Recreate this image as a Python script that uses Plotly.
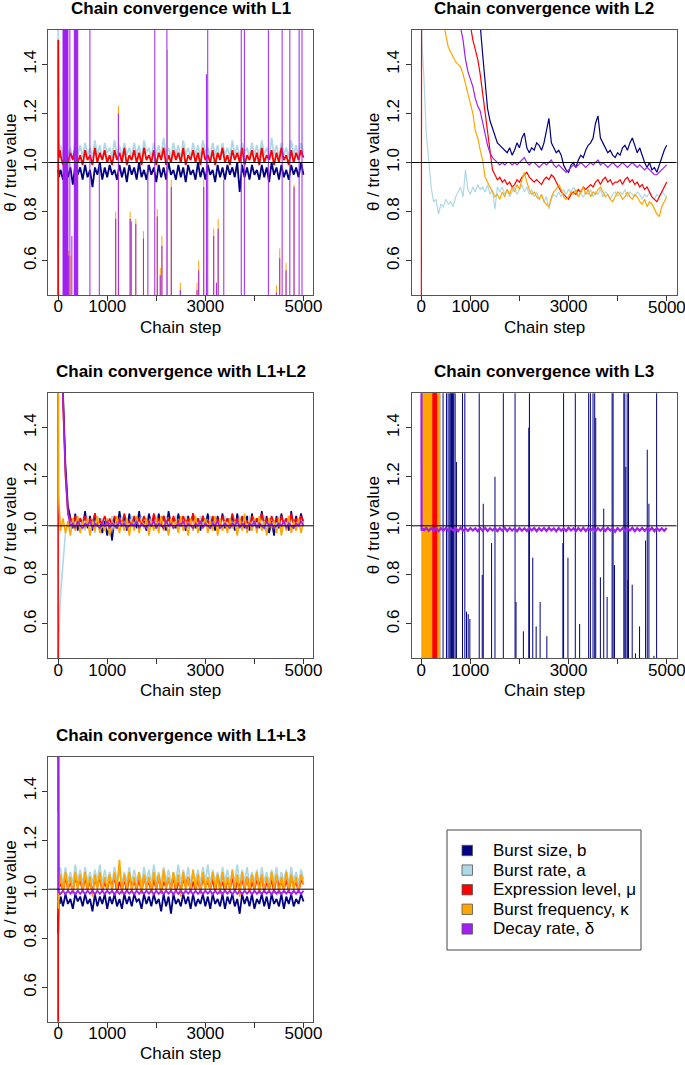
import plotly.graph_objects as go

# ---------------------------------------------------------------- data
# chain steps at which the traces were read (burn-in start + every 50 steps)
STEPS = [0, 2, 5, 10, 20, 35] + list(range(50, 5001, 50))

SERIES_NAMES = ["Burst size, b", "Burst rate, a", "Expression level, \u03bc",
                "Burst frequency, \u03ba", "Decay rate, \u03b4"]
PANEL_TITLES = ["Chain convergence with L1", "Chain convergence with L2",
                "Chain convergence with L1+L2", "Chain convergence with L3",
                "Chain convergence with L1+L3"]
X_TICKS = [0, 1000, 2000, 3000, 4000, 5000]
X_TICK_TEXT = ["0", "1000", "", "3000", "", "5000"]
Y_TICKS = [0.6, 0.8, 1.0, 1.2, 1.4]
Y_TICK_TEXT = ["0.6", "0.8", "1.0", "1.2", "1.4"]

# ---- L1
L1_B = [0.97, 0.96, 0.95, 0.96, 0.94, 0.96,
        0.97, 0.93, 0.99, 0.94, 0.98, 0.91, 0.99, 0.95, 0.98, 0.93,
        0.99, 0.94, 0.97, 0.90, 0.98, 0.95, 1.00, 0.93, 0.98, 0.94,
        0.99, 0.95, 0.97, 0.93, 0.99, 0.94, 0.98, 0.92, 0.99, 0.95,
        0.98, 0.93, 1.00, 0.94, 0.97, 0.93, 0.99, 0.95, 0.98, 0.92,
        0.99, 0.94, 0.98, 0.93, 1.00, 0.95, 0.97, 0.93, 0.99, 0.94,
        0.98, 0.92, 0.99, 0.95, 0.97, 0.93, 1.00, 0.94, 0.98, 0.93,
        0.99, 0.95, 0.97, 0.92, 0.99, 0.94, 0.98, 0.93, 0.99, 0.95,
        0.98, 0.94, 1.00, 0.88, 0.99, 0.94, 0.98, 0.93, 0.99, 0.95,
        0.97, 0.93, 0.99, 0.94, 0.98, 0.92, 1.00, 0.95, 0.98, 0.93,
        0.99, 0.94, 0.97, 0.93, 0.99, 0.95, 0.98, 0.94, 1.00, 0.95]
L1_A = [1.80, 1.50, 1.20, 1.06, 1.08, 1.05,
        1.07, 1.02, 1.08, 1.03, 1.06, 1.01, 1.09, 1.03, 1.07, 1.02,
        1.08, 1.03, 1.06, 1.02, 1.09, 1.03, 1.07, 1.01, 1.08, 1.04,
        1.06, 1.02, 1.09, 1.03, 1.07, 1.02, 1.08, 1.03, 1.06, 1.02,
        1.08, 1.03, 1.07, 1.01, 1.09, 1.04, 1.06, 1.02, 1.08, 1.03,
        1.07, 1.02, 1.10, 1.03, 1.06, 1.02, 1.08, 1.03, 1.07, 1.01,
        1.09, 1.03, 1.06, 1.02, 1.08, 1.03, 1.07, 1.02, 1.09, 1.04,
        1.06, 1.02, 1.08, 1.03, 1.07, 1.01, 1.08, 1.03, 1.06, 1.02,
        1.09, 1.03, 1.07, 1.02, 1.08, 1.04, 1.06, 1.02, 1.08, 1.03,
        1.07, 1.02, 1.09, 1.03, 1.06, 1.02, 1.10, 1.03, 1.07, 1.02,
        1.08, 1.03, 1.06, 1.02, 1.09, 1.03, 1.07, 1.02, 1.08, 1.04]
L1_MU = [0.20, 1.50, 1.10, 1.03, 1.02, 1.05,
         1.03, 0.99, 1.05, 1.00, 1.04, 1.01, 1.06, 1.00, 1.03, 0.99,
         1.05, 1.01, 1.03, 0.99, 1.06, 1.00, 1.04, 1.01, 1.05, 1.00,
         1.03, 0.99, 1.05, 1.01, 1.04, 1.00, 1.06, 0.99, 1.03, 1.01,
         1.05, 1.00, 1.04, 0.99, 1.06, 1.01, 1.03, 1.00, 1.05, 0.99,
         1.04, 1.01, 1.06, 0.99, 1.03, 1.00, 1.05, 1.01, 1.04, 1.00,
         1.06, 0.99, 1.03, 1.01, 1.05, 1.00, 1.04, 0.99, 1.06, 1.01,
         1.03, 1.00, 1.05, 0.99, 1.04, 1.01, 1.06, 1.00, 1.03, 0.99,
         1.05, 1.01, 1.04, 1.00, 1.06, 0.99, 1.03, 1.01, 1.05, 1.00,
         1.04, 0.99, 1.06, 1.00, 1.03, 1.01, 1.05, 0.99, 1.04, 1.00,
         1.06, 1.01, 1.03, 0.99, 1.05, 1.00, 1.04, 1.01, 1.05, 1.02]
L1_KD_LOW = 0.30          # kappa / delta sit below the window between excursions
L1_K_SPIKES = [(215, 0.64), (260, 0.62), (1174, 0.80), (1228, 1.23), (1467, 0.80),
               (1583, 0.77), (1739, 0.72), (2020, 0.81), (2081, 0.57), (2115, 0.70),
               (2225, 1.46), (2306, 0.93), (2490, 0.51), (2831, 0.51), (2865, 0.60),
               (2967, 0.93), (3171, 0.73), (3261, 0.77), (4448, 0.50), (4516, 0.65),
               (4645, 0.59), (4808, 0.91)]
L1_D_SPIKES = [(100, 2.0), (110, 2.0), (120, 2.0), (130, 2.0), (140, 2.0), (150, 2.0),
               (160, 2.0), (170, 2.0), (180, 2.0), (190, 2.0), (200, 2.0), (215, 0.62),
               (240, 2.0), (280, 0.70), (330, 2.0), (340, 2.0), (350, 2.0), (360, 2.0),
               (370, 2.0), (380, 2.0), (390, 2.0), (400, 2.0), (648, 2.0), (839, 0.99),
               (1174, 0.77), (1228, 1.20), (1467, 0.77), (1490, 0.76), (1583, 0.75),
               (1739, 0.69), (1829, 0.99), (1970, 2.0), (2020, 0.78), (2081, 0.54),
               (2115, 0.66), (2217, 2.0), (2306, 0.90), (2490, 0.48), (2831, 0.48),
               (2865, 0.56), (2967, 0.90), (3022, 1.36), (3049, 2.0), (3171, 0.70),
               (3226, 0.51), (3261, 0.73), (3376, 0.93), (3732, 2.0), (3795, 2.0),
               (4284, 2.0), (4448, 0.47), (4516, 0.61), (4565, 2.0), (4645, 0.56),
               (4722, 2.0), (4808, 0.90), (4911, 2.0), (4970, 2.0)]

# ---- L2
L2_B = [3.00, 3.00, 3.00, 3.00, 3.00, 2.99,
        2.98, 2.96, 2.93, 2.90, 2.86, 2.82, 2.78, 2.73, 2.68, 2.63,
        2.57, 2.51, 2.44, 2.37, 2.29, 2.20, 2.10, 1.99, 1.88, 1.77,
        1.70, 1.65, 1.60, 1.56, 1.44, 1.32, 1.22, 1.17, 1.14, 1.11,
        1.08, 1.07, 1.06, 1.05, 1.04, 1.06, 1.03, 1.05, 1.08, 1.06,
        1.10, 1.12, 1.06, 1.04, 1.06, 1.05, 1.08, 1.07, 1.05, 1.08,
        1.13, 1.18, 1.08, 1.06, 1.04, 1.05, 1.03, 0.99, 0.97, 0.96,
        0.99, 1.00, 0.98, 1.01, 1.03, 1.02, 1.05, 1.07, 1.08, 1.10,
        1.16, 1.19, 1.10, 1.08, 1.06, 1.04, 1.05, 1.03, 1.02, 1.04,
        1.03, 1.06, 1.07, 1.05, 1.08, 1.10, 1.07, 1.04, 1.06, 1.03,
        1.00, 0.98, 1.00, 0.97, 0.98, 0.96, 0.99, 1.02, 1.05, 1.07]
L2_A = [1.60, 1.56, 1.53, 1.50, 1.46, 1.41,
        1.36, 1.12, 1.02, 0.90, 0.84, 0.85, 0.79, 0.83, 0.82, 0.85,
        0.83, 0.84, 0.82, 0.86, 0.88, 0.90, 0.86, 0.97, 0.89, 0.87,
        0.90, 0.88, 0.91, 0.89, 0.90, 0.88, 0.91, 0.87, 0.89, 0.81,
        0.90, 0.88, 0.90, 0.87, 0.89, 0.86, 0.88, 0.90, 0.87, 0.89,
        0.91, 0.88, 0.90, 0.87, 0.89, 0.86, 0.88, 0.85, 0.87, 0.84,
        0.86, 0.81, 0.85, 0.87, 0.86, 0.88, 0.86, 0.89, 0.87, 0.89,
        0.88, 0.90, 0.88, 0.89, 0.87, 0.86, 0.88, 0.87, 0.89, 0.86,
        0.88, 0.87, 0.89, 0.86, 0.88, 0.87, 0.85, 0.87, 0.88, 0.86,
        0.88, 0.87, 0.89, 0.86, 0.88, 0.87, 0.86, 0.88, 0.87, 0.85,
        0.87, 0.86, 0.88, 0.86, 0.85, 0.87, 0.86, 0.88, 0.87, 0.86]
L2_MU = [0.20, 3.00, 3.00, 3.00, 2.99, 2.98,
         2.96, 2.92, 2.88, 2.83, 2.78, 2.72, 2.66, 2.60, 2.53, 2.46,
         2.38, 2.30, 2.22, 2.13, 2.04, 1.94, 1.84, 1.74, 1.64, 1.56,
         1.50, 1.46, 1.42, 1.36, 1.28, 1.20, 1.12, 1.04, 0.97, 0.95,
         0.93, 0.94, 0.92, 0.93, 0.91, 0.92, 0.90, 0.91, 0.93, 0.92,
         0.94, 0.95, 0.96, 0.94, 0.93, 0.92, 0.93, 0.92, 0.91, 0.93,
         0.94, 0.93, 0.95, 0.94, 0.92, 0.90, 0.88, 0.87, 0.86, 0.85,
         0.87, 0.88, 0.87, 0.89, 0.88, 0.90, 0.89, 0.90, 0.91, 0.90,
         0.92, 0.93, 0.91, 0.93, 0.94, 0.92, 0.93, 0.91, 0.92, 0.92,
         0.93, 0.91, 0.93, 0.94, 0.92, 0.93, 0.91, 0.92, 0.90, 0.91,
         0.89, 0.90, 0.88, 0.86, 0.85, 0.84, 0.86, 0.88, 0.90, 0.92]
L2_K = [3.00, 3.00, 3.00, 2.99, 2.98, 2.96,
        2.60, 2.40, 2.20, 2.05, 1.92, 1.82, 1.72, 1.64, 1.57, 1.52,
        1.47, 1.45, 1.43, 1.41, 1.40, 1.39, 1.36, 1.32, 1.28, 1.24,
        1.20, 1.13, 1.10, 1.05, 1.01, 0.94, 0.92, 0.90, 0.88, 0.86,
        0.87, 0.85, 0.88, 0.86, 0.89, 0.87, 0.90, 0.88, 0.91, 0.89,
        0.93, 0.96, 0.92, 0.89, 0.87, 0.88, 0.86, 0.85, 0.87, 0.84,
        0.83, 0.82, 0.86, 0.88, 0.89, 0.91, 0.89, 0.86, 0.85, 0.86,
        0.88, 0.87, 0.89, 0.86, 0.88, 0.90, 0.87, 0.89, 0.86, 0.88,
        0.87, 0.89, 0.90, 0.88, 0.86, 0.87, 0.85, 0.84, 0.86, 0.88,
        0.87, 0.85, 0.86, 0.88, 0.86, 0.85, 0.87, 0.86, 0.84, 0.83,
        0.85, 0.82, 0.84, 0.83, 0.81, 0.79, 0.78, 0.82, 0.84, 0.86]
L2_D = [3.00, 3.00, 3.00, 3.00, 2.99, 2.98,
        2.95, 2.88, 2.80, 2.70, 2.60, 2.50, 2.40, 2.30, 2.20, 2.10,
        2.00, 1.90, 1.80, 1.70, 1.62, 1.55, 1.50, 1.42, 1.37, 1.34,
        1.31, 1.26, 1.23, 1.21, 1.16, 1.11, 1.07, 1.04, 1.02, 1.01,
        1.00, 0.99, 1.00, 0.99, 1.00, 1.00, 0.99, 1.00, 0.99, 1.00,
        1.01, 1.02, 1.00, 0.99, 1.00, 1.00, 0.99, 0.98, 0.99, 1.00,
        0.99, 1.00, 1.01, 0.99, 0.98, 0.99, 0.98, 0.97, 0.96, 0.97,
        0.98, 0.99, 0.98, 0.99, 1.00, 0.99, 0.98, 0.99, 1.00, 0.99,
        1.00, 1.01, 0.99, 1.00, 0.99, 0.98, 0.99, 1.00, 0.99, 0.98,
        0.99, 1.00, 0.99, 0.98, 0.99, 1.00, 0.99, 0.98, 0.99, 0.98,
        0.97, 0.98, 0.97, 0.96, 0.95, 0.95, 0.96, 0.97, 0.98, 0.99]

# ---- L1+L2
L12_B = [3.00, 3.00, 2.90, 2.80, 2.60, 2.30,
         2.00, 1.55, 1.25, 1.08, 1.04, 0.99, 1.05, 0.98, 1.03, 1.00,
         1.06, 0.99, 1.04, 0.98, 1.05, 1.00, 1.03, 0.97, 1.02, 0.96,
         1.01, 0.94, 1.03, 0.99, 1.06, 1.00, 1.04, 0.98, 1.05, 1.00,
         1.03, 0.99, 1.06, 1.00, 1.02, 0.98, 1.05, 1.01, 1.03, 0.99,
         1.05, 1.00, 1.04, 0.98, 1.06, 1.01, 1.03, 0.99, 1.05, 1.00,
         1.02, 0.98, 1.04, 1.00, 1.05, 0.99, 1.03, 0.98, 1.04, 1.00,
         1.05, 0.99, 1.03, 0.98, 1.04, 1.00, 1.05, 0.99, 1.03, 1.01,
         1.04, 0.98, 1.05, 1.00, 1.03, 0.99, 1.04, 0.98, 1.05, 1.00,
         1.03, 0.99, 1.06, 1.00, 1.04, 0.97, 1.02, 0.96, 1.04, 0.99,
         1.05, 1.00, 1.03, 0.98, 1.06, 0.99, 1.04, 1.00, 1.05, 1.01]
L12_A = [0.40, 0.45, 0.50, 0.54, 0.58, 0.65,
         0.72, 0.85, 0.97, 1.01, 0.99, 1.03, 0.98, 1.04, 1.00, 1.03,
         0.98, 1.04, 1.00, 1.03, 0.97, 1.04, 1.01, 1.03, 0.98, 1.02,
         0.99, 1.04, 0.98, 1.03, 1.00, 1.04, 0.98, 1.02, 0.99, 1.04,
         1.00, 1.03, 0.98, 1.04, 0.99, 1.02, 0.98, 1.03, 1.00, 1.04,
         0.99, 1.03, 0.98, 1.04, 1.00, 1.02, 0.99, 1.04, 0.98, 1.03,
         1.00, 1.04, 0.99, 1.02, 0.98, 1.03, 1.00, 1.04, 0.99, 1.03,
         0.98, 1.04, 1.00, 1.02, 0.99, 1.03, 0.98, 1.04, 1.00, 1.03,
         0.99, 1.02, 0.98, 1.04, 1.00, 1.03, 0.99, 1.04, 0.98, 1.02,
         1.00, 1.03, 0.99, 1.04, 0.98, 1.03, 1.00, 1.02, 0.99, 1.04,
         0.98, 1.03, 1.00, 1.04, 0.99, 1.02, 0.98, 1.03, 1.00, 1.02]
L12_MU = [0.20, 3.00, 2.90, 2.70, 2.40, 2.10,
          1.95, 1.50, 1.20, 1.05, 1.03, 1.01, 1.04, 1.00, 1.03, 1.01,
          1.04, 1.00, 1.03, 1.01, 1.05, 1.00, 1.02, 1.01, 1.04, 1.00,
          1.03, 1.00, 1.04, 1.01, 1.03, 1.00, 1.05, 1.01, 1.02, 1.00,
          1.04, 1.01, 1.03, 1.00, 1.04, 1.01, 1.02, 1.00, 1.05, 1.01,
          1.03, 1.00, 1.04, 1.01, 1.03, 1.00, 1.04, 1.01, 1.02, 1.00,
          1.04, 1.01, 1.03, 1.00, 1.05, 1.01, 1.03, 1.00, 1.04, 1.01,
          1.02, 1.00, 1.04, 1.01, 1.03, 1.00, 1.04, 1.01, 1.03, 1.00,
          1.05, 1.01, 1.03, 1.00, 1.04, 1.01, 1.02, 1.00, 1.04, 1.01,
          1.03, 1.00, 1.05, 1.01, 1.03, 1.00, 1.04, 1.01, 1.03, 1.00,
          1.04, 1.01, 1.03, 1.00, 1.05, 1.01, 1.03, 1.00, 1.04, 1.02]
L12_K = [3.00, 2.00, 1.40, 1.13, 1.08, 1.02,
         0.98, 1.03, 0.97, 1.02, 0.96, 1.03, 0.98, 1.04, 0.97, 1.02,
         0.99, 1.03, 0.96, 1.02, 0.98, 1.04, 0.97, 1.01, 0.98, 1.03,
         0.96, 1.02, 0.99, 1.04, 0.97, 1.02, 0.98, 1.03, 0.96, 1.02,
         0.98, 1.04, 0.97, 1.02, 0.99, 1.03, 0.96, 1.02, 0.98, 1.03,
         0.97, 1.04, 0.98, 1.02, 0.96, 1.03, 0.99, 1.02, 0.97, 1.04,
         0.98, 1.02, 0.96, 1.03, 0.98, 1.04, 0.97, 1.02, 0.99, 1.03,
         0.97, 1.02, 0.98, 1.04, 0.96, 1.03, 0.98, 1.02, 0.97, 1.03,
         0.99, 1.02, 0.96, 1.03, 0.98, 1.05, 0.97, 1.02, 0.98, 1.03,
         0.97, 1.04, 0.98, 1.02, 0.96, 1.03, 0.99, 1.02, 0.97, 1.03,
         0.96, 1.02, 0.98, 1.04, 0.97, 1.02, 0.98, 1.03, 0.97, 1.02]
L12_D = [3.00, 3.00, 2.90, 2.70, 2.40, 2.10,
         1.90, 1.52, 1.22, 1.05, 1.00, 1.01, 0.99, 1.02, 1.00, 0.99,
         1.01, 1.00, 1.02, 0.99, 1.01, 1.00, 0.99, 1.01, 1.00, 1.02,
         0.99, 1.01, 1.00, 0.99, 1.02, 1.00, 1.01, 0.99, 1.00, 1.01,
         1.00, 1.02, 0.99, 1.01, 1.00, 0.99, 1.01, 1.00, 1.02, 0.99,
         1.01, 1.00, 0.99, 1.02, 1.00, 1.01, 0.99, 1.00, 1.01, 1.00,
         1.02, 0.99, 1.01, 1.00, 0.99, 1.01, 1.00, 1.02, 0.99, 1.01,
         1.00, 0.99, 1.01, 1.00, 1.02, 0.99, 1.00, 1.01, 1.00, 0.99,
         1.01, 1.00, 1.02, 0.99, 1.01, 1.00, 0.99, 1.01, 1.00, 1.02,
         0.99, 1.01, 1.00, 0.99, 1.02, 1.00, 1.01, 0.99, 1.00, 1.01,
         1.00, 1.02, 0.99, 1.01, 1.00, 0.99, 1.01, 1.00, 1.02, 1.00]

# ---- L3
L3_LOW, L3_HIGH = 0.20, 2.00      # values outside the window
L3_B_SPIKES = [(375, 2.0), (443, 2.0), (512, 2.0), (546, 2.0), (580, 2.0), (600, 2.0),
               (614, 2.0), (634, 2.0), (648, 2.0), (662, 2.0), (689, 2.0), (716, 1.26),
               (839, 2.0), (887, 2.0), (921, 0.65), (955, 0.64), (989, 0.62), (1180, 2.0),
               (1241, 0.80), (1262, 1.09), (1432, 0.93), (1501, 1.20), (1671, 2.0),
               (1910, 2.0), (1930, 0.69), (2080, 0.57), (2190, 1.40), (2203, 2.0),
               (2271, 0.87), (2340, 0.59), (2421, 0.69), (2558, 0.55), (2885, 0.93),
               (2899, 2.0), (2988, 0.87), (3138, 2.0), (3226, 0.60), (3410, 2.0),
               (3445, 2.0), (3499, 2.0), (3533, 2.0), (3554, 1.44), (3649, 0.79),
               (3717, 1.07), (3786, 0.71), (3888, 2.0), (3908, 2.0), (3936, 0.84),
               (4127, 2.0), (4147, 2.0), (4167, 1.24), (4195, 2.0), (4209, 0.78),
               (4222, 2.0), (4297, 0.76), (4365, 0.48), (4447, 0.59), (4570, 0.94),
               (4604, 1.31), (4638, 1.09), (4740, 0.47), (4795, 2.0)]
L3_A_SWINGS = [20, 60, 100, 140, 180, 220]
L3_K_SWINGS = [12, 20, 28, 36, 44, 52, 60, 68, 76, 84, 92, 100, 108, 116, 124, 132,
               140, 148, 156, 164, 172, 180, 188, 196, 204, 212, 220, 228,
               320, 328, 336, 344, 352, 360, 368, 374]
L3_MU_SWINGS = [236, 243, 250, 257, 264, 271, 278, 285, 292, 299, 306, 313]
L3_D = [2.50, 0.99, 0.98, 0.99, 0.98, 0.99,
        0.980, 0.991, 0.979, 0.990, 0.981, 0.992, 0.978, 0.990, 0.980, 0.991,
        0.979, 0.990, 0.981, 0.991, 0.978, 0.992, 0.980, 0.990, 0.979, 0.991,
        0.981, 0.990, 0.978, 0.991, 0.980, 0.992, 0.979, 0.990, 0.981, 0.991,
        0.978, 0.990, 0.980, 0.992, 0.979, 0.991, 0.981, 0.990, 0.978, 0.991,
        0.980, 0.990, 0.979, 0.992, 0.981, 0.991, 0.978, 0.990, 0.980, 0.991,
        0.979, 0.992, 0.981, 0.990, 0.978, 0.991, 0.980, 0.990, 0.979, 0.992,
        0.981, 0.990, 0.978, 0.991, 0.980, 0.992, 0.979, 0.990, 0.981, 0.991,
        0.978, 0.990, 0.980, 0.991, 0.979, 0.992, 0.981, 0.990, 0.976, 0.991,
        0.980, 0.990, 0.979, 0.991, 0.981, 0.992, 0.978, 0.990, 0.980, 0.991,
        0.979, 0.990, 0.981, 0.992, 0.978, 0.991, 0.980, 0.990, 0.979, 0.991]

# ---- L1+L3
L13_B = [0.90, 0.82, 0.88, 0.93, 0.96, 0.94,
         0.97, 0.93, 0.98, 0.94, 0.96, 0.92, 0.98, 0.95, 0.97, 0.93,
         0.98, 0.94, 0.96, 0.91, 0.98, 0.93, 0.97, 0.94, 0.98, 0.92,
         0.97, 0.94, 0.98, 0.93, 0.96, 0.92, 0.98, 0.94, 0.97, 0.93,
         0.98, 0.95, 0.96, 0.92, 0.98, 0.94, 0.97, 0.93, 0.98, 0.94,
         0.96, 0.91, 0.98, 0.93, 0.97, 0.90, 0.98, 0.94, 0.96, 0.93,
         0.98, 0.94, 0.97, 0.92, 0.98, 0.93, 0.96, 0.94, 0.98, 0.93,
         0.97, 0.92, 0.98, 0.94, 0.96, 0.93, 0.98, 0.92, 0.97, 0.94,
         0.98, 0.93, 0.96, 0.90, 0.98, 0.94, 0.97, 0.93, 0.98, 0.92,
         0.96, 0.94, 0.98, 0.93, 0.97, 0.92, 0.98, 0.94, 0.96, 0.93,
         0.98, 0.92, 0.97, 0.94, 0.98, 0.93, 0.96, 0.94, 0.98, 0.95]
L13_A = [1.00, 1.03, 1.06, 1.08, 1.05, 1.09,
         1.08, 1.02, 1.09, 1.03, 1.07, 1.02, 1.10, 1.03, 1.08, 1.02,
         1.09, 1.03, 1.07, 1.02, 1.08, 1.03, 1.10, 1.02, 1.08, 1.03,
         1.07, 1.02, 1.09, 1.03, 1.08, 1.02, 1.07, 1.03, 1.09, 1.02,
         1.08, 1.03, 1.07, 1.02, 1.09, 1.03, 1.08, 1.02, 1.10, 1.03,
         1.07, 1.02, 1.09, 1.03, 1.08, 1.02, 1.07, 1.03, 1.10, 1.02,
         1.08, 1.03, 1.09, 1.02, 1.07, 1.03, 1.08, 1.02, 1.09, 1.03,
         1.10, 1.02, 1.08, 1.03, 1.07, 1.02, 1.09, 1.03, 1.08, 1.02,
         1.07, 1.03, 1.10, 1.02, 1.08, 1.03, 1.09, 1.02, 1.07, 1.03,
         1.08, 1.02, 1.09, 1.03, 1.07, 1.02, 1.08, 1.03, 1.09, 1.02,
         1.07, 1.03, 1.08, 1.02, 1.09, 1.03, 1.07, 1.02, 1.08, 1.04]
L13_MU = [0.20, 2.50, 1.03, 1.02, 1.04, 1.01,
          1.04, 0.99, 1.05, 1.00, 1.03, 0.99, 1.05, 1.01, 1.04, 0.99,
          1.05, 1.00, 1.03, 0.99, 1.04, 1.01, 1.05, 0.99, 1.03, 1.00,
          1.04, 1.01, 1.05, 0.99, 1.03, 1.00, 1.04, 0.99, 1.05, 1.01,
          1.03, 1.00, 1.04, 0.99, 1.05, 1.01, 1.03, 0.99, 1.04, 1.00,
          1.05, 0.99, 1.03, 1.01, 1.04, 1.00, 1.05, 0.99, 1.03, 1.00,
          1.04, 1.01, 1.05, 0.99, 1.03, 1.00, 1.04, 0.99, 1.05, 1.01,
          1.03, 1.00, 1.04, 0.99, 1.05, 1.01, 1.03, 0.99, 1.04, 1.00,
          1.05, 0.99, 1.03, 1.01, 1.04, 1.00, 1.05, 0.99, 1.03, 1.00,
          1.04, 1.01, 1.05, 0.99, 1.03, 1.00, 1.04, 0.99, 1.05, 1.01,
          1.03, 1.00, 1.04, 0.99, 1.05, 1.01, 1.03, 0.99, 1.04, 1.02]
L13_K = [1.32, 1.25, 0.94, 0.92, 1.05, 1.02,
         1.06, 0.99, 1.07, 1.00, 1.05, 0.98, 1.07, 1.00, 1.06, 0.99,
         1.07, 1.00, 1.05, 0.97, 1.06, 1.00, 1.07, 0.99, 1.05, 1.00,
         1.06, 0.99, 1.07, 1.00, 1.12, 0.98, 1.06, 1.00, 1.07, 0.99,
         1.05, 1.00, 1.07, 0.98, 1.06, 1.00, 1.05, 0.99, 1.07, 1.00,
         1.06, 0.98, 1.08, 1.00, 1.05, 0.99, 1.07, 1.00, 1.06, 0.97,
         1.07, 1.00, 1.05, 0.99, 1.08, 1.00, 1.06, 0.98, 1.07, 1.00,
         1.05, 0.99, 1.07, 1.00, 1.06, 0.98, 1.07, 1.00, 1.05, 0.99,
         1.08, 1.00, 1.06, 0.97, 1.07, 1.00, 1.05, 0.99, 1.06, 1.00,
         1.07, 0.98, 1.06, 1.00, 1.05, 0.99, 1.07, 1.00, 1.06, 0.98,
         1.05, 1.00, 1.07, 0.99, 1.06, 1.00, 1.05, 0.99, 1.06, 1.02]
L13_D = [2.50, 1.00, 0.99, 0.985, 0.99, 0.98,
         0.981, 0.993, 0.980, 0.994, 0.982, 0.993, 0.979, 0.994, 0.981, 0.993,
         0.980, 0.994, 0.982, 0.993, 0.979, 0.994, 0.981, 0.993, 0.980, 0.994,
         0.982, 0.993, 0.979, 0.994, 0.981, 0.993, 0.980, 0.994, 0.982, 0.993,
         0.979, 0.994, 0.981, 0.993, 0.980, 0.994, 0.982, 0.993, 0.979, 0.994,
         0.981, 0.993, 0.980, 0.994, 0.982, 0.993, 0.979, 0.994, 0.981, 0.993,
         0.980, 0.994, 0.982, 0.993, 0.979, 0.994, 0.981, 0.993, 0.980, 0.994,
         0.982, 0.993, 0.979, 0.994, 0.981, 0.993, 0.980, 0.994, 0.982, 0.993,
         0.979, 0.994, 0.981, 0.993, 0.980, 0.994, 0.982, 0.993, 0.979, 0.994,
         0.981, 0.993, 0.980, 0.994, 0.982, 0.993, 0.979, 0.994, 0.981, 0.993,
         0.980, 0.994, 0.982, 0.993, 0.979, 0.994, 0.981, 0.993, 0.980, 0.994]

for _n, _s in [("L1_B", L1_B), ("L1_A", L1_A), ("L1_MU", L1_MU), ("L2_B", L2_B),
               ("L2_A", L2_A), ("L2_MU", L2_MU), ("L2_K", L2_K), ("L2_D", L2_D),
               ("L12_B", L12_B), ("L12_A", L12_A), ("L12_MU", L12_MU), ("L12_K", L12_K),
               ("L12_D", L12_D), ("L3_D", L3_D), ("L13_B", L13_B), ("L13_A", L13_A),
               ("L13_MU", L13_MU), ("L13_K", L13_K), ("L13_D", L13_D)]:
    assert len(_s) == len(STEPS), (_n, len(_s))

# ---------------------------------------------------------------- style / layout
W, H = 685, 1065
FONT = "Liberation Sans, Arial, Helvetica, sans-serif"
COLORS = ["#000080", "#ADD8E6", "#FF0000", "#FFA500", "#A020F0"]
NAVY, LBLUE, RED, ORANGE, PURPLE = COLORS
# plot boxes in pixels: left, right, top, bottom
BOXES = [(48.3, 313.3, 30.0, 295.0), (411.5, 676.5, 30.0, 295.0),
         (48.3, 313.3, 393.3, 658.3), (411.5, 676.5, 393.3, 658.3),
         (48.3, 313.3, 756.7, 1021.7)]
RIGHT_COLUMN = {2, 4}   # panels whose last tick label touches the page edge
X_RANGE = [-200, 5200]
Y_RANGE = [0.46, 1.54]
BAND_W = 1.8     # dense noisy traces
WALK_W = 1.2     # slowly wandering traces (L2)
SPIKE_W = 1.0
TICK_FS = 17


def fx(px):
    return px / W


def fy(py):
    return 1 - py / H


fig = go.Figure()


def axes(i):
    return ("x" if i == 1 else f"x{i}"), ("y" if i == 1 else f"y{i}")


def add_line(i, ys, color, width, xs=None):
    xa, ya = axes(i)
    fig.add_trace(go.Scatter(x=xs if xs is not None else STEPS, y=ys, mode="lines",
                             line=dict(color=color, width=width), xaxis=xa, yaxis=ya,
                             showlegend=False, hoverinfo="skip"))


def add_spikes(i, pairs, low, color):
    xs, ys = [], []
    for s, top in pairs:
        xs += [s, s, None]
        ys += [low, top, None]
    add_line(i, ys, color, SPIKE_W, xs)


# panel 1: L1
add_line(1, L1_B, NAVY, BAND_W)
add_line(1, L1_A, LBLUE, BAND_W)
add_line(1, L1_MU, RED, BAND_W)
add_spikes(1, L1_K_SPIKES, L1_KD_LOW, ORANGE)
add_spikes(1, L1_D_SPIKES, L1_KD_LOW, PURPLE)
# panel 2: L2
for ys, c in zip([L2_B, L2_A, L2_MU, L2_K, L2_D], COLORS):
    add_line(2, ys, c, WALK_W)
# panel 3: L1+L2
for ys, c in zip([L12_B, L12_A, L12_MU, L12_K, L12_D], COLORS):
    add_line(3, ys, c, 1.6)
# panel 4: L3
add_spikes(4, L3_B_SPIKES, L3_LOW, NAVY)
add_spikes(4, [(s, L3_HIGH) for s in L3_A_SWINGS], L3_LOW, LBLUE)
add_spikes(4, [(s, L3_HIGH) for s in L3_K_SWINGS], L3_LOW, ORANGE)
add_spikes(4, [(s, L3_HIGH) for s in L3_MU_SWINGS], L3_LOW, RED)
add_line(4, L3_D, PURPLE, 2.2)
# panel 5: L1+L3
for ys, c in zip([L13_B, L13_A, L13_MU, L13_K, L13_D], COLORS):
    add_line(5, ys, c, BAND_W)

layout = dict(width=W, height=H, margin=dict(l=0, r=0, t=0, b=0, autoexpand=False),
              autosize=False, showlegend=False,
              plot_bgcolor="white", paper_bgcolor="white",
              font=dict(family=FONT, size=17, color="black"))
shapes, annotations = [], []
for i, (l, r, t, b) in enumerate(BOXES, start=1):
    xa, ya = axes(i)
    xkey = "xaxis" if i == 1 else f"xaxis{i}"
    ykey = "yaxis" if i == 1 else f"yaxis{i}"
    tick_text = list(X_TICK_TEXT)
    if i in RIGHT_COLUMN:
        # plotly drops a tick label that reaches the page edge; draw that one as text
        annotations.append(dict(text=tick_text[-1], xref=xa, yref="paper", x=X_TICKS[-1],
                                y=fy(b + 12), xanchor="center", yanchor="middle",
                                showarrow=False, font=dict(size=TICK_FS)))
        tick_text[-1] = ""
    layout[xkey] = dict(domain=[fx(l), fx(r)], anchor=ya, range=X_RANGE, automargin=False,
                        tickvals=X_TICKS, ticktext=tick_text, ticks="outside",
                        ticklen=5, tickcolor="#333", showline=True, mirror=True,
                        linecolor="#555", linewidth=1, showgrid=False, zeroline=False,
                        ticklabelstandoff=-9,
                        tickfont=dict(size=TICK_FS, family=FONT, color="black"),
                        fixedrange=True)
    layout[ykey] = dict(domain=[fy(b), fy(t)], anchor=xa, range=Y_RANGE, automargin=False,
                        tickvals=Y_TICKS, ticktext=Y_TICK_TEXT, ticks="outside",
                        ticklen=5, tickcolor="#333", showline=True, mirror=True,
                        linecolor="#555", linewidth=1, showgrid=False, zeroline=False,
                        tickangle=-90,
                        tickfont=dict(size=TICK_FS, family=FONT, color="black"),
                        fixedrange=True)
    shapes.append(dict(type="line", xref=f"{xa} domain", yref=ya, x0=0, x1=1, y0=1, y1=1,
                       line=dict(color="black", width=1), layer="above"))
    annotations.append(dict(text=f"<b>{PANEL_TITLES[i - 1]}</b>", xref="paper", yref="paper",
                            x=fx((l + r) / 2), y=fy(t - 21.5), xanchor="center",
                            yanchor="middle", showarrow=False, font=dict(size=17)))
    annotations.append(dict(text="Chain step", xref="paper", yref="paper",
                            x=fx((l + r) / 2), y=fy(b + 32), xanchor="center",
                            yanchor="middle", showarrow=False, font=dict(size=17)))
    annotations.append(dict(text="\u03b8 / true value", xref="paper", yref="paper",
                            x=fx(l - 38), y=fy((t + b) / 2), xanchor="center",
                            yanchor="middle", textangle=-90, showarrow=False,
                            font=dict(size=17)))

# legend (drawn by hand to match the base-graphics legend box)
LEG_L, LEG_R, LEG_T, LEG_B = 447, 641, 830, 950
shapes.append(dict(type="rect", xref="paper", yref="paper", x0=fx(LEG_L), x1=fx(LEG_R),
                   y0=fy(LEG_B), y1=fy(LEG_T), line=dict(color="#444", width=1),
                   fillcolor="white"))
for k, (name, c) in enumerate(zip(SERIES_NAMES, COLORS)):
    yc = 850.5 + k * 19.6
    shapes.append(dict(type="rect", xref="paper", yref="paper", x0=fx(462), x1=fx(472.5),
                       y0=fy(yc + 5.2), y1=fy(yc - 5.2), fillcolor=c,
                       line=dict(color="#555", width=0.8)))
    annotations.append(dict(text=name, xref="paper", yref="paper", x=fx(490.5), y=fy(yc),
                            xanchor="left", yanchor="middle", showarrow=False,
                            font=dict(size=17)))

layout["shapes"] = shapes
layout["annotations"] = annotations
fig.update_layout(**layout)
# fixed-size page: no responsive resizing, no mode bar, no default 8px body margin
fig.write_html("out.html",
               config={"responsive": False, "displayModeBar": False},
               post_script="document.body.style.margin='0px';"
                           "document.body.style.overflow='hidden';")
